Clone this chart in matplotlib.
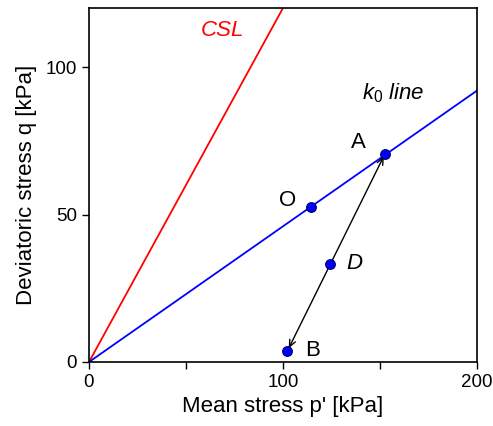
import matplotlib
matplotlib.use("Agg")
import matplotlib.pyplot as plt
import numpy as np

plt.rcParams['font.family'] = ['Liberation Sans', 'DejaVu Sans']
plt.rcParams['mathtext.fontset'] = 'custom'
plt.rcParams['mathtext.it'] = 'Liberation Sans:italic'
plt.rcParams['mathtext.rm'] = 'Liberation Sans'

# Data
csl_p = [0, 100]
csl_q = [0, 120]
k0_p = [0, 200]
k0_q = [0, 92]
pt_names = ['O', 'A', 'D', 'B']
pt_p = [114.2, 152.6, 124.4, 102.3]
pt_q = [52.7, 70.6, 33.2, 3.8]

fig = plt.figure(figsize=(4.93, 4.26), dpi=100)
ax = fig.add_axes([89/493, (426-362)/426, (477-89)/493, (362-8)/426])

ax.plot(csl_p, csl_q, color='#ff0000', lw=1.3)
ax.plot(k0_p, k0_q, color='#0000ff', lw=1.3)

# stress path A <-> B
ax.annotate('', xy=(pt_p[3], pt_q[3]), xytext=(pt_p[1], pt_q[1]),
            arrowprops=dict(arrowstyle='<->,head_length=0.5,head_width=0.22',
                            color='black', lw=1.0, shrinkA=2, shrinkB=2))
ax.plot(pt_p, pt_q, 'o', color='#0000ff', mec='#000066', mew=0.8, ms=7, zorder=5)

fs = 16
ax.text(69, 112.5, 'CSL', color='#ff0000', fontsize=fs, style='italic', ha='center', va='center')
ax.text(157, 91, r'$k_\mathit{0}$ line', color='black', fontsize=fs, style='italic', ha='center', va='center')
ax.text(138.7, 74.3, 'A', fontsize=fs, ha='center', va='center')
ax.text(102.6, 54.7, 'O', fontsize=fs, ha='center', va='center')
ax.text(137, 33.4, 'D', fontsize=fs, style='italic', ha='center', va='center')
ax.text(115, 4, 'B', fontsize=fs, ha='center', va='center')

ax.set_xlim(0, 200)
ax.set_ylim(0, 120)
ax.set_xticks([0, 100, 200])
ax.set_xticks([50, 150], minor=True)
ax.set_yticks([0, 50, 100])
ax.tick_params(which='both', direction='out', length=5, width=1, labelsize=13.5)
for s in ax.spines.values():
    s.set_linewidth(1.2)
ax.set_xlabel("Mean stress p' [kPa]", fontsize=16, labelpad=4)
ax.set_ylabel("Deviatoric stress q [kPa]", fontsize=16, labelpad=6)

fig.savefig('out.png', dpi=100)
